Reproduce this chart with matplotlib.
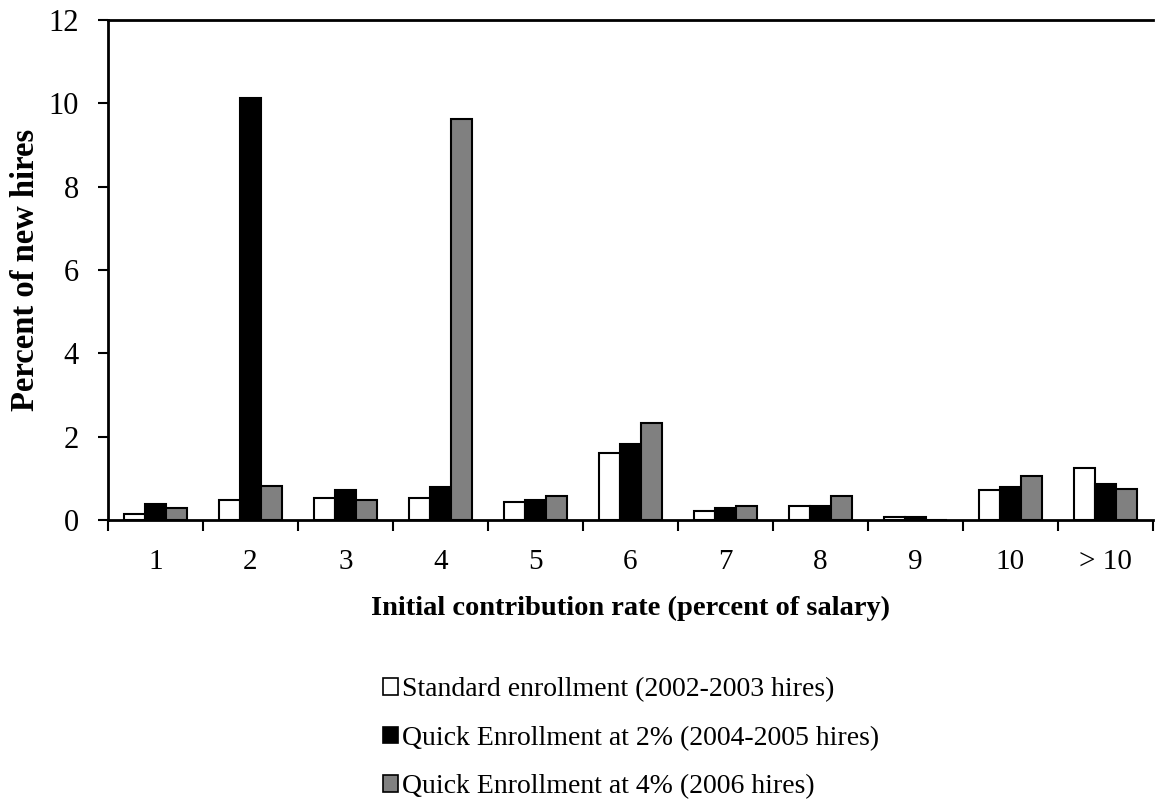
import numpy as np
import matplotlib.pyplot as plt
from matplotlib.patches import Patch

plt.rcParams['font.family'] = ['Liberation Serif', 'DejaVu Serif']

categories = ["1", "2", "3", "4", "5", "6", "7", "8", "9", "10", "> 10"]
standard = [0.14, 0.48, 0.54, 0.54, 0.43, 1.60, 0.23, 0.34, 0.08, 0.72, 1.24]
quick_2 = [0.38, 10.12, 0.72, 0.79, 0.49, 1.82, 0.30, 0.35, 0.07, 0.79, 0.87]
quick_4 = [0.28, 0.82, 0.49, 9.62, 0.58, 2.34, 0.34, 0.58, 0.0, 1.07, 0.74]

labels = ["Standard enrollment (2002-2003 hires)",
          "Quick Enrollment at 2% (2004-2005 hires)",
          "Quick Enrollment at 4% (2006 hires)"]
colors = ["white", "black", "#808080"]

fig = plt.figure(figsize=(11.66, 7.99), dpi=100)
ax = fig.add_axes([0.0926, 0.349, 0.896, 0.626])

x = np.arange(len(categories))
width = 0.22
for i, (vals, col) in enumerate(zip([standard, quick_2, quick_4], colors)):
    ax.bar(x + (i - 1) * width, vals, width, color=col, edgecolor="black",
           linewidth=1.5, zorder=2)

ax.set_xlim(-0.5, len(categories) - 0.5)
ax.set_ylim(0, 12)
ax.set_yticks(range(0, 13, 2))
ax.tick_params(axis="y", labelsize=22, direction="out", length=7, width=1.5, pad=14)

ax.set_xticks(x)
ax.set_xticklabels(categories)
ax.set_xticks(np.arange(-0.5, len(categories), 1), minor=True)
ax.tick_params(axis="x", which="major", length=0, labelsize=21, pad=21)
ax.tick_params(axis="x", which="minor", direction="out", length=8, width=1.5)

for side in ["left", "bottom", "top"]:
    ax.spines[side].set_linewidth(2)
ax.spines["right"].set_visible(False)

ax.set_ylabel("Percent of new hires", fontsize=23.5, fontweight="bold", labelpad=5)
ax.set_xlabel("Initial contribution rate (percent of salary)", fontsize=20.5,
              fontweight="bold", labelpad=15)

handles = [Patch(facecolor=c, edgecolor="black", linewidth=1.2) for c in colors]
fig.legend(handles, labels, loc="upper left", bbox_to_anchor=(0.3186, 0.166),
           frameon=False, fontsize=20, handlelength=0.55, handleheight=0.55,
           handletextpad=0.15, labelspacing=0.84, borderaxespad=0)

plt.savefig("out.png", dpi=100)
